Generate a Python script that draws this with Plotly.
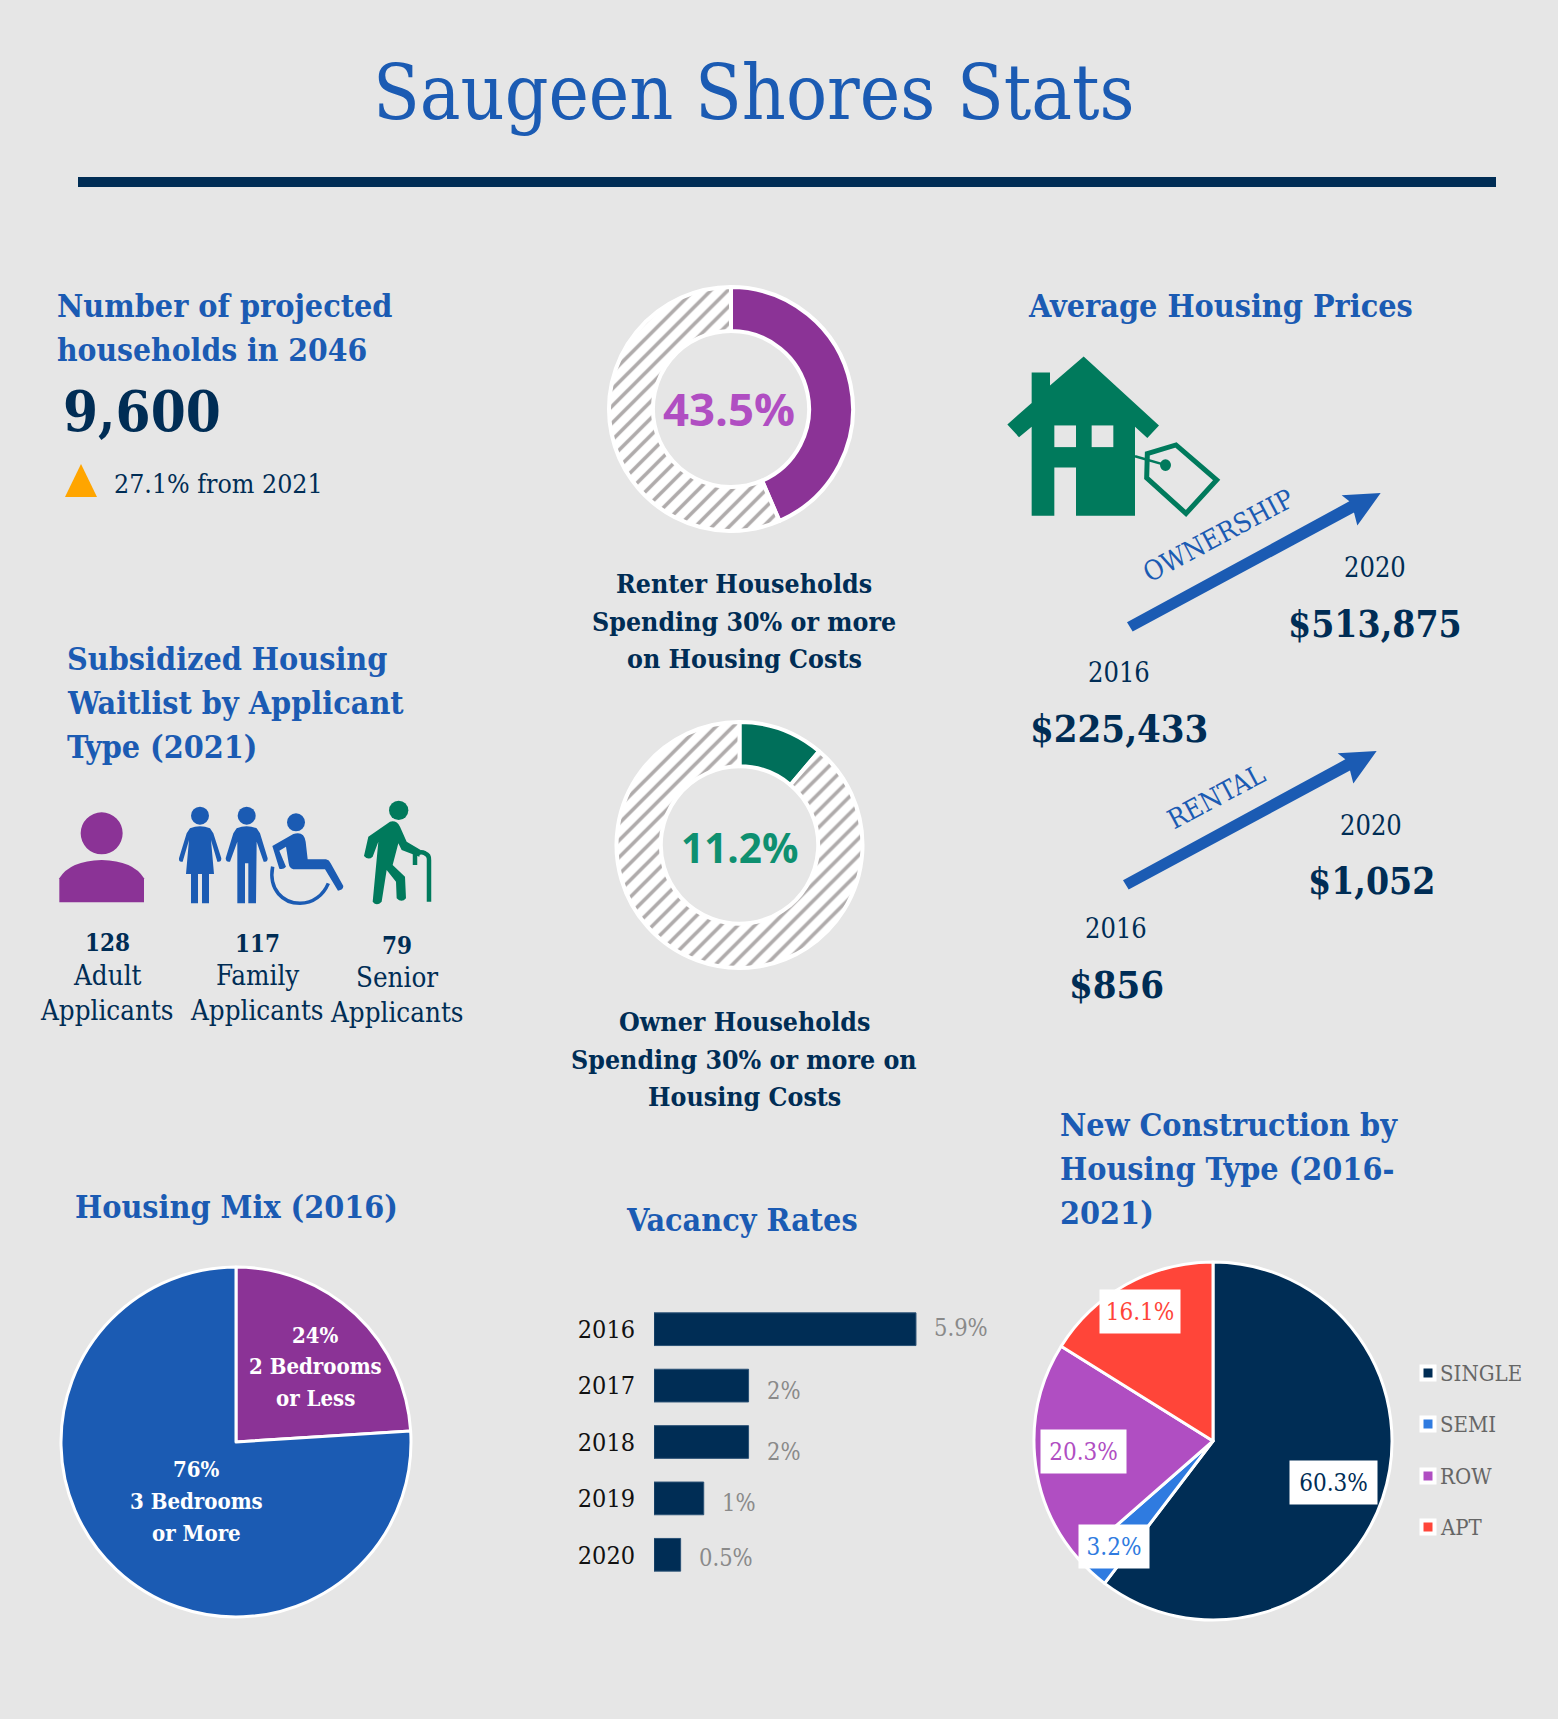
import plotly.graph_objects as go

W, H = 1558, 1719
BG = "#E6E6E6"
NAVY = "#002D55"
BLUE = "#1B5BB3"
PURPLE = "#8B3396"
GREEN = "#007A5C"
SLAB = "DejaVu Serif Condensed, DejaVu Serif, serif"

# data
renter_share = [43.5, 56.5]
owner_share = [11.2, 88.8]
mix_labels = ["2 Bedrooms or Less", "3 Bedrooms or More"]
mix_values = [24, 76]
years = ["2016", "2017", "2018", "2019", "2020"]
vacancy_lengths = [5.9, 2.13, 2.13, 1.12, 0.6]
vacancy_text = ["5.9%", "2%", "2%", "1%", "0.5%"]
build_types = ["SINGLE", "SEMI", "ROW", "APT"]
build_values = [60.3, 3.2, 20.3, 16.1]
build_colors = [NAVY, "#2F7BE0", "#B04EC2", "#FF4539"]
waitlist_counts = ["128", "117", "79"]
waitlist_types = ["Adult", "Family", "Senior"]


def X(px):
    return px / W


def Y(py):
    return 1 - py / H


def pie_domain(cx, cy, r):
    return dict(x=[X(cx - r), X(cx + r)], y=[Y(cy + r), Y(cy - r)])


def zpath(d, ox, oy, sx, sy):
    """Turn an svg-like path in zoomed picture coordinates into a paper path."""
    out = []
    for tok in d.split():
        if tok.isalpha():
            out.append(tok)
            continue
        a, b = tok.split(",")
        out.append(f"{X(ox + float(a) / sx):.5f},{Y(oy + float(b) / sy):.5f}")
    return " ".join(out)


fig = go.Figure()

# ── Donuts ────────────────────────────────────────────────────────────────
stripes = dict(shape=["", "/"], bgcolor="white", fgcolor="#AFABAB", size=12, solidity=0.3)
fig.add_trace(go.Pie(
    values=renter_share, hole=0.64, sort=False, direction="clockwise", rotation=0,
    domain=pie_domain(731, 409, 122), textinfo="none", showlegend=False,
    marker=dict(colors=[PURPLE, "white"], line=dict(color="white", width=4), pattern=stripes),
))
fig.add_trace(go.Pie(
    values=owner_share, hole=0.64, sort=False, direction="clockwise", rotation=0,
    domain=pie_domain(739.5, 845, 123), textinfo="none", showlegend=False,
    marker=dict(colors=["#006F5A", "white"], line=dict(color="white", width=4), pattern=stripes),
))

# ── Full pies ─────────────────────────────────────────────────────────────
fig.add_trace(go.Pie(
    labels=mix_labels, values=mix_values, sort=False, direction="clockwise", rotation=0,
    domain=pie_domain(236, 1442, 175), textinfo="none", showlegend=False,
    marker=dict(colors=[PURPLE, BLUE], line=dict(color="white", width=3)),
))
fig.add_trace(go.Pie(
    labels=build_types, values=build_values, sort=False, direction="clockwise", rotation=0,
    domain=pie_domain(1213, 1441, 179), textinfo="none", showlegend=False,
    marker=dict(colors=build_colors, line=dict(color="white", width=3)),
))

# ── Vacancy bars ──────────────────────────────────────────────────────────
fig.add_trace(go.Bar(
    x=vacancy_lengths, y=years, orientation="h", showlegend=False,
    marker=dict(color=NAVY, line=dict(color="#2B5276", width=1)),
))

fig.update_layout(
    width=W, height=H,
    paper_bgcolor=BG, plot_bgcolor=BG,
    margin=dict(l=0, r=0, t=0, b=0, autoexpand=False),
    bargap=0.42,
    font=dict(family=SLAB, color=NAVY),
    xaxis=dict(domain=[X(654), X(654 + 44.4 * 7)], range=[0, 7], visible=False),
    yaxis=dict(
        domain=[Y(1583), Y(1301)], type="category", range=[4.5, -0.5],
        showgrid=False, zeroline=False, showline=False,
        ticks="outside", ticklen=13, tickcolor=BG,
        tickfont=dict(family=SLAB, size=25, color="#111111"),
    ),
)


def label(text, px, py, size, color=NAVY, bold=False, anchor="center", family=SLAB, angle=0):
    fig.add_annotation(
        x=X(px), y=Y(py), xref="paper", yref="paper", showarrow=False,
        text=f"<b>{text}</b>" if bold else text,
        xanchor=anchor, yanchor="middle", textangle=angle,
        font=dict(size=size, color=color, family=family),
    )


# ── Title ─────────────────────────────────────────────────────────────────
label("Saugeen Shores Stats", 754, 92, 76, BLUE)
fig.add_shape(type="rect", xref="paper", yref="paper", x0=X(78), x1=X(1496), y0=Y(187), y1=Y(177),
              fillcolor=NAVY, line_width=0)

# ── Projected households ──────────────────────────────────────────────────
label("Number of projected", 55, 306, 32, BLUE, True, "left")
label("households in 2046", 55, 349, 31.5, BLUE, True, "left")
label("9,600", 61, 411, 56, NAVY, True, "left")
fig.add_shape(type="path", xref="paper", yref="paper", fillcolor="#FFA500", line_width=0,
              path=zpath("M 65,497 L 81,464 L 97,497 Z", 0, 0, 1, 1))
label("27.1% from 2021", 112, 484, 26.5, NAVY, False, "left")

# ── Waitlist ──────────────────────────────────────────────────────────────
for i, line in enumerate(["Subsidized Housing", "Waitlist by Applicant", "Type (2021)"]):
    label(line, 65, 659 + 44 * i, 32, BLUE, True, "left")

wait_x = [107, 257, 397]
wait_y = [[942, 975, 1010], [943, 975, 1010], [945, 977, 1012]]
for i, col_x in enumerate(wait_x):
    label(waitlist_counts[i], col_x, wait_y[i][0], 24, NAVY, True)
    label(waitlist_types[i], col_x, wait_y[i][1], 27.5)
    label("Applicants", col_x, wait_y[i][2], 27.5)


def icon_circle(zx, zy, zr, color, ox=0, oy=620, s=3):
    fig.add_shape(type="circle", xref="paper", yref="paper", fillcolor=color, line_width=0,
                  x0=X(ox + (zx - zr) / s), x1=X(ox + (zx + zr) / s),
                  y0=Y(oy + (zy + zr) / s), y1=Y(oy + (zy - zr) / s))


def icon_path(d, color, ox=0, oy=620, sx=3, sy=3, stroke=0):
    fig.add_shape(type="path", xref="paper", yref="paper", path=zpath(d, ox, oy, sx, sy),
                  fillcolor=color if not stroke else "rgba(0,0,0,0)",
                  line=dict(color=color, width=stroke))


# adult
icon_circle(305, 640, 63, PURPLE)
icon_path("M 178,847 L 178,775 Q 210,722 305,720 Q 400,722 432,775 L 432,847 Z", PURPLE)
# woman
icon_circle(600, 587, 27, BLUE)
icon_path("M 570,625 Q 600,612 630,625 L 640,640 L 664,715 Q 664,728 652,725 L 633,660 L 642,762 "
          "L 627,762 L 627,850 L 606,850 L 606,762 L 594,762 L 594,850 L 573,850 L 573,762 L 558,762 "
          "L 567,660 L 548,725 Q 536,728 537,715 L 560,640 Z", BLUE)
# man
icon_circle(740, 587, 27, BLUE)
icon_path("M 710,625 Q 740,612 770,625 L 780,640 L 803,715 Q 803,728 791,725 L 770,665 L 768,850 "
          "L 745,850 L 745,730 L 735,730 L 735,850 L 712,850 L 712,665 L 690,725 Q 678,728 677,715 "
          "L 700,640 Z", BLUE)
# wheelchair
icon_circle(888, 607, 27, BLUE)
icon_path("M 817,678 L 880,642 Q 912,632 917,665 L 923,718 L 978,718 Q 988,720 992,730 L 1030,798 "
          "Q 1030,810 1014,812 L 975,748 L 880,748 Q 868,745 866,730 L 858,680 L 838,692 L 858,740 "
          "Q 850,750 838,746 Z", BLUE)
icon_path("M 818,740 C 805,810 850,850 900,850 C 940,850 970,825 985,790", BLUE, stroke=3.5)
# senior
icon_circle(1196, 571, 29, GREEN)
icon_path("M 1170,605 Q 1190,600 1200,620 L 1220,665 L 1262,690 L 1258,710 L 1205,690 L 1195,670 "
          "L 1178,735 L 1215,770 L 1218,835 Q 1205,850 1190,835 L 1188,785 L 1160,750 L 1145,845 "
          "Q 1130,860 1118,845 L 1135,665 L 1118,710 Q 1105,722 1092,708 L 1105,650 Z", GREEN)
icon_path("M 1245,735 L 1245,705 Q 1260,692 1275,700 Q 1288,705 1287,720 L 1287,845", GREEN, stroke=4.5)

# ── Donut captions ────────────────────────────────────────────────────────
label("43.5%", 729, 408, 45.5, "#B04EC2", True, family="Open Sans")
for i, line in enumerate(["Renter Households", "Spending 30% or more", "on Housing Costs"]):
    label(line, 744, [583, 621, 658][i], 26.5, NAVY, True)
label("11.2%", 740, 848, 40.5, "#0E9070", True, family="Open Sans")
for i, line in enumerate(["Owner Households", "Spending 30% or more on", "Housing Costs"]):
    label(line, 744, [1021, 1059, 1096][i], 26.5, NAVY, True)

# ── Housing prices ────────────────────────────────────────────────────────
label("Average Housing Prices", 1026, 306, 32, BLUE, True, "left")
house = dict(ox=990, oy=340, sx=3, sy=2.306)
icon_path("M 281,38 L 507,197 L 472,226 L 435,200 L 435,405 L 258,405 L 258,294 L 193,294 L 193,405 "
          "L 125,405 L 125,200 L 87,224 L 52,195 L 125,145 L 125,75 L 180,75 L 180,105 Z", GREEN, **house)
icon_path("M 193,197 L 258,197 L 258,247 L 193,247 Z", BG, **house)
icon_path("M 305,197 L 370,197 L 370,247 L 305,247 Z", BG, **house)
icon_path("M 472,262 L 558,242 L 680,323 L 588,400 L 470,318 Z", GREEN, stroke=5, **house)
icon_path("M 435,268 L 525,288", GREEN, stroke=2.5, **house)
fig.add_shape(type="circle", xref="paper", yref="paper", fillcolor=GREEN, line_width=0,
              x0=X(990 + 510 / 3), x1=X(990 + 543 / 3),
              y0=Y(340 + 302 / 2.306), y1=Y(340 + 275 / 2.306))

for dx, dy in [(0, 0), (-12, 595)]:
    pts = [(411, 651), (1078, 372), (1055, 358), (1172, 353), (1102, 428), (1092, 398), (428, 672)]
    d = "M " + " L ".join(f"{a + dx},{b + dy}" for a, b in pts) + " Z"
    icon_path(d, BLUE, **house)

label("OWNERSHIP", 1218, 535, 27, BLUE, angle=-28)
label("RENTAL", 1216, 796, 27, BLUE, angle=-28)
label("2020", 1375, 568, 27)
label("$513,875", 1375, 624, 37, NAVY, True)
label("2016", 1119, 672, 27)
label("$225,433", 1119, 729, 38, NAVY, True)
label("2020", 1371, 825, 27)
label("$1,052", 1371, 881, 37, NAVY, True)
label("2016", 1116, 929, 27)
label("$856", 1116, 984, 38, NAVY, True)

# ── Housing mix ───────────────────────────────────────────────────────────
label("Housing Mix (2016)", 73, 1207, 32, BLUE, True, "left")
for line, py in zip([f"{mix_values[0]}%", "2 Bedrooms", "or Less"], [1335, 1366, 1398]):
    label(line, 315, py, 22, "white", True)
for line, py in zip([f"{mix_values[1]}%", "3 Bedrooms", "or More"], [1469, 1501, 1533]):
    label(line, 197, py, 22, "white", True)

# ── Vacancy labels ────────────────────────────────────────────────────────
label("Vacancy Rates", 742, 1220, 32, BLUE, True)
# annotations on a category axis take the serial number of the category
row_shift = [1, -5, -10, -5, -3]
for row, (length, txt) in enumerate(zip(vacancy_lengths, vacancy_text)):
    fig.add_annotation(
        x=length, y=row, xref="x", yref="y", showarrow=False, text=txt,
        xanchor="left", xshift=16, yshift=row_shift[row],
        font=dict(size=23.5, color="#8A8A8A", family=SLAB),
    )

# ── New construction ──────────────────────────────────────────────────────
for i, line in enumerate(["New Construction by", "Housing Type (2016-", "2021)"]):
    label(line, 1058, 1125 + 44 * i, 32, BLUE, True, "left")

box_pos = [(1333, 1482), (1114, 1546), (1083, 1451), (1140, 1311)]
box_w = [85, 68, 83, 78]
for val, col, (bx, by), bw in zip(build_values, build_colors, box_pos, box_w):
    fig.add_annotation(
        x=X(bx), y=Y(by), xref="paper", yref="paper", showarrow=False, text=f"{val}%",
        xanchor="center", yanchor="middle", width=bw, height=41, bgcolor="white",
        align="center", valign="middle",
        font=dict(size=24, color=col, family=SLAB),
    )

for name, col, py in zip(build_types, build_colors, [1373, 1424, 1476, 1527]):
    fig.add_shape(type="rect", xref="paper", yref="paper", x0=X(1421.5), x1=X(1434.5),
                  y0=Y(py + 6.5), y1=Y(py - 6.5), fillcolor=col, line=dict(color="white", width=4))
    label(name, 1438, py, 22, "#666666", False, "left")

fig.write_html("out.html", config=dict(displayModeBar=False),
               post_script="document.body.style.margin='0';")
